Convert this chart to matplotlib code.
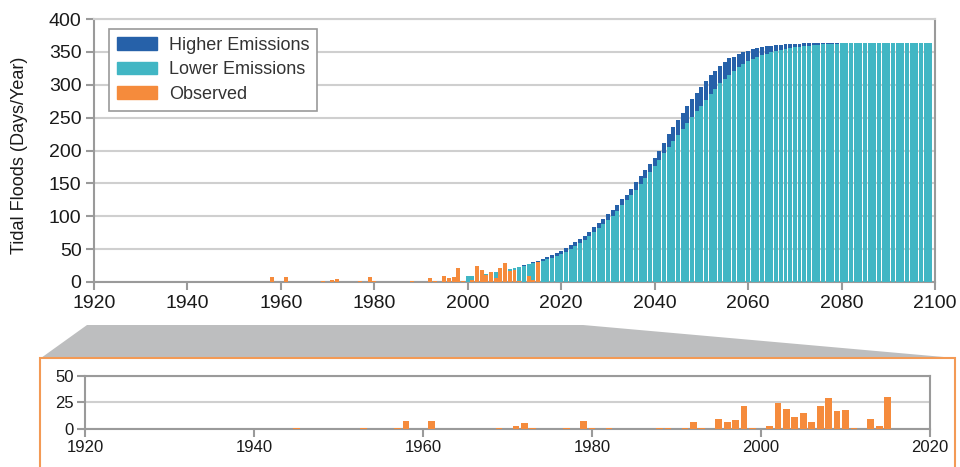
import numpy as np
import matplotlib.pyplot as plt
from matplotlib.patches import Patch, Polygon, Rectangle

plt.rcParams['font.family'] = ['Liberation Sans', 'DejaVu Sans']

# projections, 2000-2099
proj_years = np.arange(2000, 2100)
lower = [9, 9, 10, 11, 12, 13, 15, 16, 18, 19.5,
         21, 23, 24, 27, 29, 30, 32, 35, 36.5, 39.5,
         43, 46, 50, 55, 59, 64, 70, 75.5, 82, 88,
         95, 100.5, 108.5, 116.5, 124, 132.5, 140, 149, 158, 167,
         176.5, 185, 196, 205, 215, 224, 233, 242, 251.5, 260.5,
         268, 277, 286, 294, 303, 309, 315, 321, 327, 332,
         336, 339, 342, 345.5, 347, 349.5, 351, 353, 354.5, 356,
         357.5, 358, 359, 359.5, 360.5, 361, 362, 362, 362.5, 362.5,
         363, 363, 363.5, 363.5, 363.5, 364, 364, 364, 364, 364,
         364, 364, 364, 364, 364, 364, 364, 364, 364, 364]
higher = [9, 9, 10, 11, 12.5, 13.5, 15.5, 17, 19, 20.5,
          21.5, 23.5, 26, 28, 30, 32, 35, 38, 40.5, 44,
          47, 52, 56, 60.5, 65.5, 70.5, 76.5, 83, 90, 95.5,
          103, 109.5, 117, 126, 133, 142, 152, 161, 170.5, 180,
          188.5, 199, 212, 224.5, 236, 247, 257.5, 268, 278, 288,
          297, 306, 315, 321, 329, 335, 340, 342.5, 346.5, 350,
          351.5, 354, 356, 357.5, 359, 359, 360, 360.5, 361.5, 362,
          362, 362, 363.5, 363.5, 363.5, 363.5, 364, 364, 364, 364,
          364, 364, 364, 364, 364, 364, 364, 364, 364, 364,
          364, 364, 364, 364, 364, 364, 364, 364, 364, 364]

# observed (years with nonzero counts)
obs_years = [1945, 1953, 1957, 1958, 1961, 1969, 1971, 1972, 1973, 1977, 1979, 1980, 1982,
             1988, 1989, 1991, 1992, 1993, 1995, 1996, 1997, 1998, 1999,
             2001, 2002, 2003, 2004, 2005, 2006, 2007, 2008, 2009, 2010, 2011, 2013, 2014, 2015]
obs_days = [0.5, 0.5, 0.5, 7, 7, 1, 3, 5, 0.5, 1, 7, 1, 0.5,
            1, 0.5, 0.5, 6, 1, 9, 6, 8, 22, 1,
            3, 24, 19, 11, 15, 6, 22, 29, 17, 18, 1, 9, 3, 30]

c_high = '#2661a9'
c_low = '#41b6c4'
c_obs = '#f58b3c'
spine_c = '#9a9a9a'
grid_c = '#cfcfcf'
text_c = '#1a1a1a'

fig = plt.figure(figsize=(9.6, 4.67), dpi=100)

# main chart
ax = fig.add_axes([94 / 960, 1 - 282 / 467, 841 / 960, 263 / 467])
ax.bar(proj_years, higher, width=0.85, color=c_high, zorder=2)
ax.bar(proj_years, lower, width=0.85, color=c_low, zorder=3)
ax.bar(obs_years, obs_days, width=0.85, color=c_obs, zorder=4)
ax.set_xlim(1920, 2100)
ax.set_ylim(0, 400)
ax.set_xticks(range(1920, 2101, 20))
ax.set_yticks(range(0, 401, 50))
ax.yaxis.grid(True, color=grid_c, lw=1.5)
ax.set_axisbelow(True)
for s in ['left', 'bottom', 'right']:
    ax.spines[s].set_color(spine_c)
    ax.spines[s].set_linewidth(1.5)
ax.spines['top'].set_color(grid_c)
ax.spines['top'].set_linewidth(1.5)
ax.tick_params(axis='both', colors=spine_c, labelcolor=text_c, labelsize=14,
               width=1.5, length=6, pad=3)
ax.set_ylabel('Tidal Floods (Days/Year)', fontsize=13, color=text_c)
ax.yaxis.set_label_coords(-0.079, 0.48)

handles = [Patch(color=c_high, label='Higher Emissions'),
           Patch(color=c_low, label='Lower Emissions'),
           Patch(color=c_obs, label='Observed')]
leg = ax.legend(handles=handles, loc='upper left', bbox_to_anchor=(0.018, 0.962),
                borderaxespad=0, fontsize=13, frameon=True, fancybox=False,
                edgecolor=spine_c, framealpha=1, handlelength=2.2, handleheight=0.7,
                handletextpad=0.65, labelspacing=0.4, borderpad=0.45)
leg.get_frame().set_linewidth(1.2)
for t in leg.get_texts():
    t.set_color('#333333')

# zoom connector and inset frame
fx = lambda x: x / 960
fy = lambda y: 1 - y / 467
trap = Polygon([(fx(87), fy(325)), (fx(583), fy(325)), (fx(955), fy(358)), (fx(41), fy(358))],
               closed=True, transform=fig.transFigure, facecolor='#bdbebf', edgecolor='none', zorder=0)
fig.patches.append(trap)
frame = Rectangle((fx(40), fy(475)), fx(915), fy(358) - fy(475), transform=fig.transFigure,
                  facecolor='white', edgecolor='#f39a55', lw=1.5, zorder=1)
fig.patches.append(frame)

# inset of observed
ax2 = fig.add_axes([85 / 960, 1 - 428.7 / 467, 845 / 960, 52.7 / 467])
ax2.set_zorder(3)
ax2.bar(obs_years, obs_days, width=0.8, color=c_obs, zorder=3)
ax2.set_xlim(1920, 2020)
ax2.set_ylim(0, 50)
ax2.set_xticks(range(1920, 2021, 20))
ax2.set_yticks([0, 25, 50])
ax2.yaxis.grid(True, color=grid_c, lw=1.5)
ax2.set_axisbelow(True)
for s in ['left', 'bottom', 'right', 'top']:
    ax2.spines[s].set_color(spine_c)
    ax2.spines[s].set_linewidth(1.5)
ax2.tick_params(axis='both', colors=spine_c, labelcolor=text_c, labelsize=12,
                width=1.5, length=6, pad=2)

fig.savefig('out.png', dpi=100)
